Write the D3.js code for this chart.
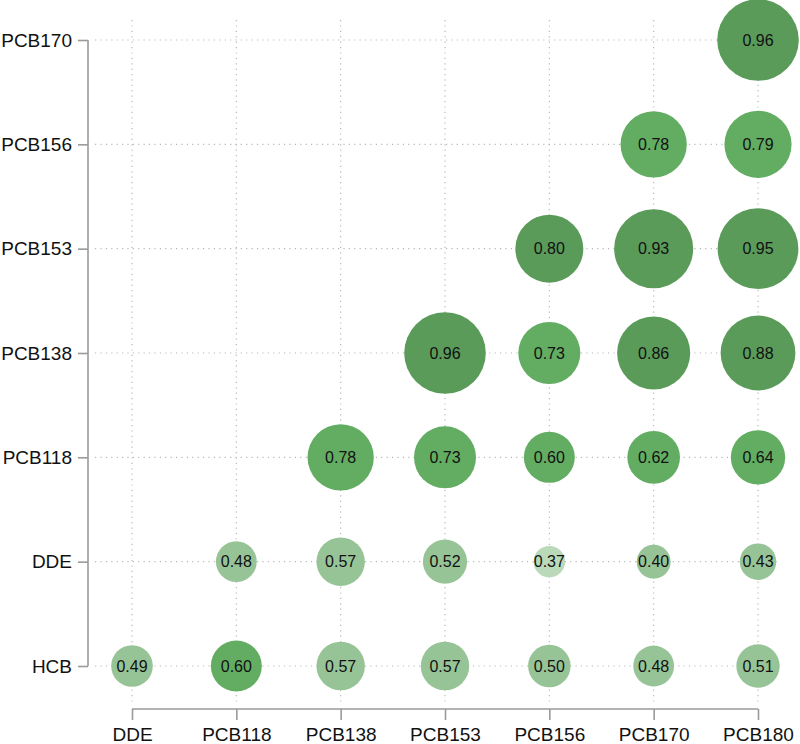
<!DOCTYPE html>
<html>
<head>
<meta charset="utf-8">
<script src="https://cdn.jsdelivr.net/npm/d3@7"></script>
<style>
  html, body { margin: 0; padding: 0; background: #fff; }
  svg { display: block; font-family: "Liberation Sans", Arial, sans-serif; }
</style>
</head>
<body>
<div id="chart"></div>
<script>
// columns (x) and rows (y, bottom to top)
const xLabels = ['DDE', 'PCB118', 'PCB138', 'PCB153', 'PCB156', 'PCB170', 'PCB180'];
const yLabels = ['HCB', 'DDE', 'PCB118', 'PCB138', 'PCB153', 'PCB156', 'PCB170'];

// correlation values per row, one per column (null = empty cell)
const rowHCB    = [0.49, 0.60, 0.57, 0.57, 0.50, 0.48, 0.51];
const rowDDE    = [null, 0.48, 0.57, 0.52, 0.37, 0.40, 0.43];
const rowPCB118 = [null, null, 0.78, 0.73, 0.60, 0.62, 0.64];
const rowPCB138 = [null, null, null, 0.96, 0.73, 0.86, 0.88];
const rowPCB153 = [null, null, null, null, 0.80, 0.93, 0.95];
const rowPCB156 = [null, null, null, null, null, 0.78, 0.79];
const rowPCB170 = [null, null, null, null, null, null, 0.96];

const rows = [rowHCB, rowDDE, rowPCB118, rowPCB138, rowPCB153, rowPCB156, rowPCB170];

const cells = [];
rows.forEach((vals, i) => {
    vals.forEach((v, j) => {
        if (v !== null) cells.push({ row: yLabels[i], col: xLabels[j], value: v });
    });
});

const width = 800, height = 744;

const x = d3.scalePoint().domain(xLabels).range([132, 758]);
const y = d3.scalePoint().domain(yLabels).range([666, 40]);
const r = d3.scaleLinear().domain([0, 1]).range([0, 42.5]);
const color = d3.scaleThreshold()
    .domain([0.4, 0.6, 0.8])
    .range(['#b9d9b9', '#97c497', '#63ad63', '#5a9b5a']);

const svg = d3.select('#chart').append('svg')
    .attr('width', width)
    .attr('height', height);

// dotted grid
svg.append('g').selectAll('line').data(xLabels).join('line')
    .attr('x1', d => x(d)).attr('x2', d => x(d))
    .attr('y1', 20).attr('y2', 705)
    .attr('stroke', '#b8b8b8').attr('stroke-width', 1.2)
    .attr('stroke-dasharray', '1.2,4.2');

svg.append('g').selectAll('line').data(yLabels).join('line')
    .attr('y1', d => y(d)).attr('y2', d => y(d))
    .attr('x1', 95).attr('x2', 780)
    .attr('stroke', '#b8b8b8').attr('stroke-width', 1.2)
    .attr('stroke-dasharray', '1.2,4.2');

// axes
const axisBottom = svg.append('g')
    .attr('transform', 'translate(0,709)')
    .call(d3.axisBottom(x).tickSize(11).tickPadding(8))
    .call(g => g.select('.domain').attr('d', `M${x(xLabels[0])},0H${x(xLabels[xLabels.length - 1])}`));

const axisLeft = svg.append('g')
    .attr('transform', 'translate(88,0)')
    .call(d3.axisLeft(y).tickSize(10).tickPadding(6))
    .call(g => g.select('.domain').attr('d', `M0,${y(yLabels[yLabels.length - 1])}V${y(yLabels[0])}`));

[axisBottom, axisLeft].forEach(g => {
    g.select('.domain').attr('stroke', '#9a9a9a').attr('stroke-width', 1.6).attr('fill', 'none');
    g.selectAll('.tick line').attr('stroke', '#9a9a9a').attr('stroke-width', 1.6);
    g.selectAll('.tick text')
        .attr('fill', '#111')
        .style('font-size', '19px')
        .style('font-family', '"Liberation Sans", Arial, sans-serif');
});

// bubbles
const bubble = svg.append('g').selectAll('g').data(cells).join('g')
    .attr('transform', d => `translate(${x(d.col)},${y(d.row)})`);

bubble.append('circle')
    .attr('r', d => r(d.value))
    .attr('fill', d => color(d.value));

bubble.append('text')
    .attr('text-anchor', 'middle')
    .attr('dy', '0.36em')
    .attr('fill', '#111')
    .style('font-size', '16px')
    .text(d => d.value.toFixed(2));
</script>
</body>
</html>
